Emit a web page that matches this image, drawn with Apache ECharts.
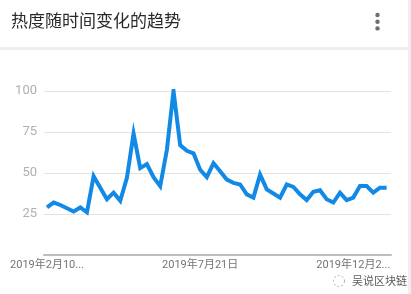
<!DOCTYPE html>
<html>
<head>
<meta charset="utf-8">
<script src="https://cdn.jsdelivr.net/npm/echarts@6/dist/echarts.min.js"></script>
<style>
html,body{margin:0;padding:0;background:#fff;}
#c{width:411px;height:294px;}
</style>
</head>
<body>
<div id="c"></div>
<script>
// Weekly dates (2019-02-10 .. 2020-02-02)
const weeks = [];
(function(){
  const start = new Date(2019, 1, 10);
  for (let i = 0; i < 52; i++) {
    const d = new Date(start.getTime() + i * 7 * 86400000);
    weeks.push(d.getFullYear() + '年' + (d.getMonth() + 1) + '月' + d.getDate() + '日');
  }
})();
const interest = [29,32,30.5,28.5,26.5,29,26,48,41,34,38,33,47,74,53,55.5,47.5,42,64,100,
  67,63.5,62,52,47.5,56,51,46,44,43,37,35,49,40,37.5,35,43,41.5,37,33.5,
  38.5,39.5,34,32,38,33.5,35,42,42,38,41,41];
const tickIndex = [0, 23, 46];
const tickText = ['2019年2月10...', '2019年7月21日', '2019年12月2...'];
const yTicks = [25, 50, 75, 100];

const chart = echarts.init(document.getElementById('c'), null, {renderer: 'canvas'});
const font = 'Roboto, "Noto Sans CJK SC", sans-serif';
const baseGraphic = [
  {type: 'text', left: 11, top: 12, style: {text: '热度随时间变化的趋势', fontSize: 17, fill: '#2a2a2a', fontFamily: '"Noto Sans CJK SC", sans-serif'}},
  {type: 'circle', shape: {cx: 377.5, cy: 15, r: 2.2}, style: {fill: '#6e6e6e'}},
  {type: 'circle', shape: {cx: 377.5, cy: 21.7, r: 2.2}, style: {fill: '#6e6e6e'}},
  {type: 'circle', shape: {cx: 377.5, cy: 28.4, r: 2.2}, style: {fill: '#6e6e6e'}},
  {type: 'rect', shape: {x: 0, y: 47, width: 411, height: 3}, style: {fill: '#efefef'}},
  {type: 'rect', shape: {x: 408, y: 0, width: 3, height: 294}, style: {fill: '#efefef'}},
  {type: 'circle', shape: {cx: 339, cy: 281, r: 5.5}, style: {fill: 'none', stroke: '#b0b0b0', lineWidth: 1, lineDash: [2, 2]}},
  {type: 'text', left: 352, top: 275, style: {text: '吴说区块链', fontSize: 11, fill: '#5a5a5a', fontFamily: '"Noto Sans CJK SC", sans-serif'}}
];
chart.setOption({
  animation: false,
  backgroundColor: '#fff',
  grid: [
    {left: 44, right: 20, top: 91, bottom: 39},
    {left: 47, right: 24.4, top: 91, bottom: 39}
  ],
  xAxis: [
    {gridIndex: 0, type: 'value', min: 0, max: 1,
     axisLine: {show: true, lineStyle: {color: '#bdbdbd', width: 2}},
     axisTick: {show: false}, axisLabel: {show: false}, splitLine: {show: false}},
    {gridIndex: 1, type: 'category', data: weeks, boundaryGap: false,
     axisLine: {show: false}, axisTick: {show: false}, splitLine: {show: false},
     axisLabel: {show: false}}
  ],
  yAxis: [
    {gridIndex: 0, type: 'value', min: 0, max: 100, interval: 25,
     axisLine: {show: false}, axisTick: {show: false},
     splitLine: {lineStyle: {color: '#e3e3e3', width: 1}},
     axisLabel: {color: '#b0b0b0', fontSize: 13, fontFamily: font, margin: 7,
       formatter: function(v){ return yTicks.indexOf(v) >= 0 ? String(v) : ''; }}},
    {gridIndex: 1, type: 'value', min: 0, max: 100, show: false}
  ],
  series: [{
    type: 'line', xAxisIndex: 1, yAxisIndex: 1, data: interest,
    showSymbol: false, symbol: 'none',
    lineStyle: {color: '#1389e6', width: 4, join: 'miter'},
    z: 5
  }],
  graphic: baseGraphic
});
// Place the x tick labels at the category positions computed by the axis
const labels = tickIndex.map(function(idx, k){
  const p = chart.convertToPixel({xAxisIndex: 1, yAxisIndex: 1}, [idx, 0]);
  return {type: 'text', x: p[0], y: p[1] + 10,
    style: {text: tickText[k], fontSize: 11, fill: '#757575', fontFamily: font, align: 'center', verticalAlign: 'middle'}};
});
chart.setOption({graphic: baseGraphic.concat(labels)});
</script>
</body>
</html>
